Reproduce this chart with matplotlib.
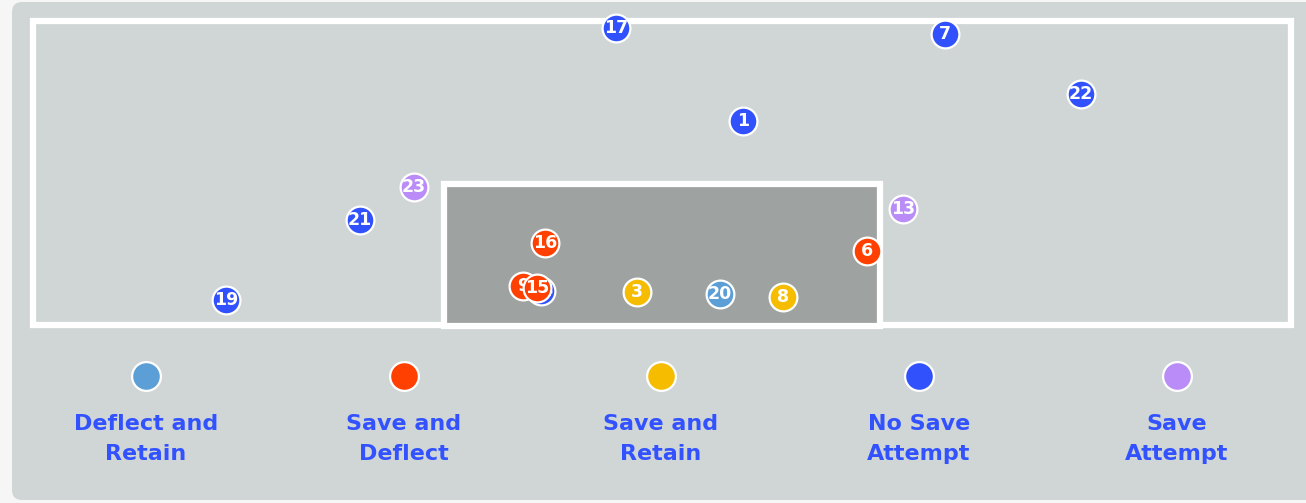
import matplotlib
matplotlib.use("Agg")
import matplotlib.pyplot as plt
from matplotlib.patches import FancyBboxPatch, Rectangle

# Shot data (positions read from the goal view, in image units)
shot_numbers = ["17", "7", "22", "1", "23", "13", "21", "16", "6", "19",
                "9", "14", "15", "3", "20", "8"]
shot_x = [616, 945, 1081, 743, 414, 903, 360, 545, 867, 226,
          523, 541, 537, 637, 720, 783]
shot_y = [28, 34, 94, 121, 187, 209, 220, 243, 251, 300,
          286, 291, 288, 292, 294, 297]
shot_outcome = ["No Save Attempt", "No Save Attempt", "No Save Attempt", "No Save Attempt",
                "Save Attempt", "Save Attempt", "No Save Attempt", "Save and Deflect",
                "Save and Deflect", "No Save Attempt", "Save and Deflect", "No Save Attempt",
                "Save and Deflect", "Save and Retain", "Deflect and Retain", "Save and Retain"]

categories = ["Deflect and Retain", "Save and Deflect", "Save and Retain",
              "No Save Attempt", "Save Attempt"]
legend_labels = ["Deflect and\nRetain", "Save and\nDeflect", "Save and\nRetain",
                 "No Save\nAttempt", "Save\nAttempt"]
colors = {"Deflect and Retain": "#5c9ed6", "Save and Deflect": "#ff4000",
          "Save and Retain": "#f6bd00", "No Save Attempt": "#3151fc",
          "Save Attempt": "#b98cf7"}

W, H = 1306, 503
fig = plt.figure(figsize=(W / 100, H / 100), dpi=100)
fig.patch.set_facecolor("#f6f6f6")
ax = fig.add_axes([0, 0, 1, 1])
ax.set_xlim(0, W)
ax.set_ylim(H, 0)
ax.axis("off")

# panel
ax.add_patch(FancyBboxPatch((12, 2), W + 40, 498, boxstyle="round,pad=0,rounding_size=10",
                            facecolor="#d0d6d6", edgecolor="none", zorder=0))
# outer frame
ax.add_patch(Rectangle((33, 21), 1258, 304, facecolor="none", edgecolor="white",
                       linewidth=4.5, zorder=1))
# goal
ax.add_patch(Rectangle((444, 184), 436, 142, facecolor="#9ea2a0", edgecolor="white",
                       linewidth=4.5, zorder=2))

# shots (each marker with its own label, later shots on top)
for i, (num, x, y, outc) in enumerate(zip(shot_numbers, shot_x, shot_y, shot_outcome)):
    ax.scatter([x], [y], s=400, color=colors[outc], edgecolors="white",
               linewidths=1.6, zorder=5 + 2 * i)
    ax.text(x, y, num, color="white", fontsize=12.5, fontweight="bold",
            ha="center", va="center", zorder=6 + 2 * i, family="DejaVu Sans")

# legend
leg_x = [146, 404, 661, 919, 1177]
for cx, cat, lab in zip(leg_x, categories, legend_labels):
    ax.scatter([cx], [376], s=430, color=colors[cat], edgecolors="white",
               linewidths=1.6, zorder=5)
    ax.text(cx, 439, lab, color="#3352ff", fontsize=16, fontweight="bold",
            ha="center", va="center", linespacing=1.6, family="DejaVu Sans")

fig.savefig("out.png", dpi=100, facecolor=fig.get_facecolor())
